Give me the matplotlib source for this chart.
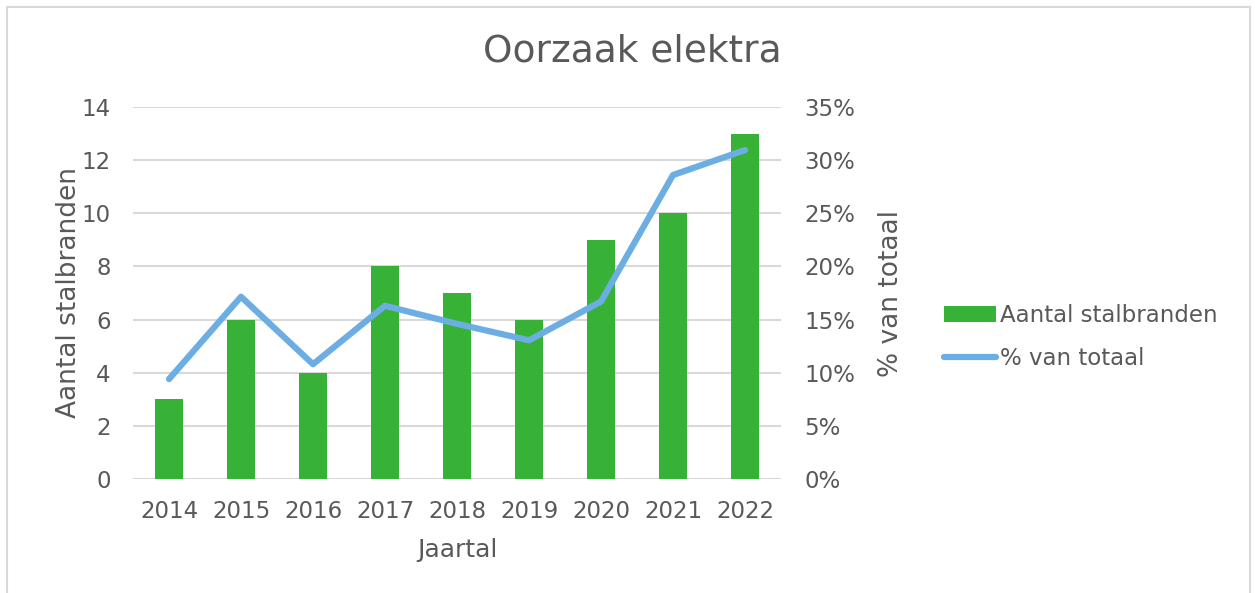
import matplotlib
matplotlib.use("Agg")
import matplotlib.pyplot as plt
from matplotlib.patches import Rectangle
from matplotlib.ticker import FuncFormatter

years = ["2014", "2015", "2016", "2017", "2018", "2019", "2020", "2021", "2022"]
aantal = [3, 6, 4, 8, 7, 6, 9, 10, 13]
pct = [9.4, 17.15, 10.8, 16.3, 14.6, 13.05, 16.7, 28.6, 30.95]

green = "#37B236"
blue = "#6CAEE3"
txt = "#595959"
grid = "#D9D9D9"

plt.rcParams['font.family'] = ['DejaVu Sans']
fig = plt.figure(figsize=(12.55, 5.93), dpi=100)
W, H = 1255, 593
l, r, t, b = 133, 781, 107, 479
ax = fig.add_axes([l / W, 1 - b / H, (r - l) / W, (b - t) / H])
ax2 = ax.twinx()

x = list(range(len(years)))
ax.bar(x, aantal, width=0.4, color=green, label="Aantal stalbranden", zorder=2)
ax2.plot(x, pct, color=blue, lw=4.5, solid_capstyle="round", label="% van totaal", zorder=3)

ax.set_xlim(-0.5, len(years) - 0.5)
ax.set_ylim(0, 14)
ax.set_yticks(range(0, 15, 2))
ax2.set_ylim(0, 35)
ax2.set_yticks(range(0, 36, 5))
ax2.yaxis.set_major_formatter(FuncFormatter(lambda v, p: f"{int(v)}%"))
ax.set_xticks(x)
ax.set_xticklabels(years)

for a in (ax, ax2):
    for s in a.spines.values():
        s.set_visible(False)
    a.tick_params(length=0, labelsize=16.5, colors=txt)
ax.grid(axis="y", color=grid, lw=1.5, zorder=0)
ax.set_axisbelow(True)
ax.axhline(0, color=grid, lw=1.5, zorder=1)
ax.tick_params(axis="x", pad=15)
ax.tick_params(axis="y", pad=16)
ax2.tick_params(axis="y", pad=17)

ax.set_xlabel("Jaartal", fontsize=18, color=txt, labelpad=11)
ax.set_ylabel("Aantal stalbranden", fontsize=19, color=txt, labelpad=0)
ax2.set_ylabel("% van totaal", fontsize=19, color=txt, labelpad=16)

fig.text(632 / W, 1 - 52 / H, "Oorzaak elektra", fontsize=27, color=txt, ha="center", va="center")

h1, l1 = ax.get_legend_handles_labels()
h2, l2 = ax2.get_legend_handles_labels()
fig.legend(h1 + h2, l1 + l2, loc="center left", bbox_to_anchor=(923 / W, 1 - 337 / H),
           frameon=False, fontsize=16.5, labelcolor=txt, handlelength=2.3, handletextpad=0.15,
           labelspacing=0.85)

fig.patches.append(Rectangle((7 / W, -5 / H), 1243 / W, 591 / H, transform=fig.transFigure,
                             fill=False, edgecolor="#D9D9D9", lw=1.5))
fig.savefig("out.png", dpi=100)
